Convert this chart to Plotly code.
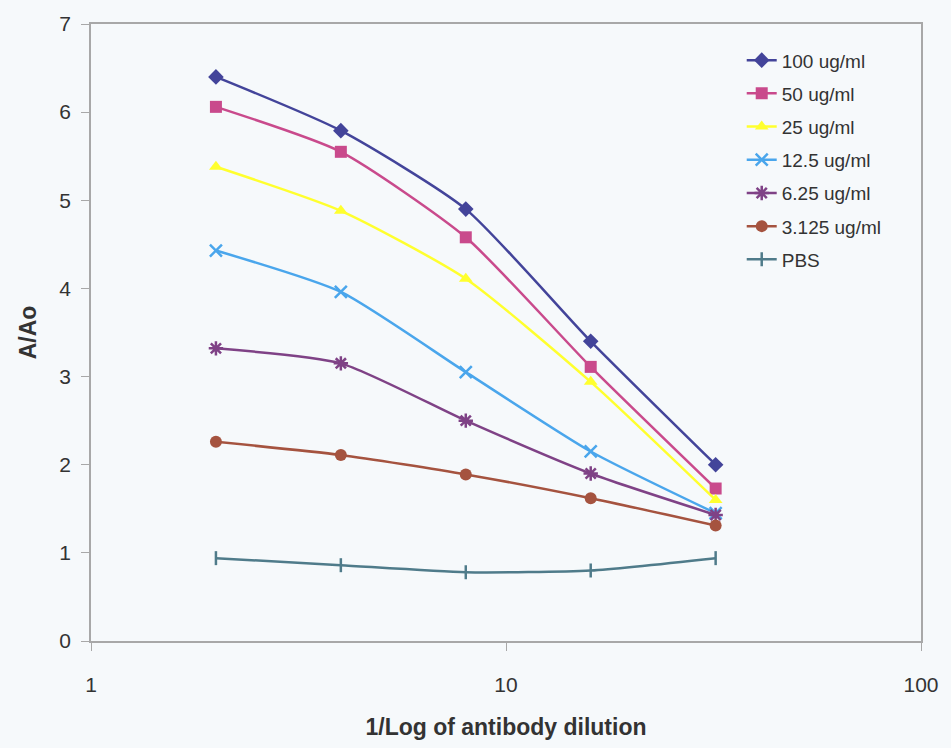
import plotly.graph_objects as go

x_vals = [2, 4, 8, 16, 32]

series_names = ["100 ug/ml", "50 ug/ml", "25 ug/ml", "12.5 ug/ml", "6.25 ug/ml", "3.125 ug/ml", "PBS"]
s100 = [6.40, 5.79, 4.90, 3.40, 2.00]
s50 = [6.06, 5.55, 4.58, 3.11, 1.73]
s25 = [5.38, 4.88, 4.11, 2.94, 1.60]
s12_5 = [4.43, 3.96, 3.05, 2.15, 1.45]
s6_25 = [3.32, 3.15, 2.50, 1.90, 1.43]
s3_125 = [2.26, 2.11, 1.89, 1.62, 1.31]
pbs = [0.94, 0.86, 0.78, 0.80, 0.94]
series_values = [s100, s50, s25, s12_5, s6_25, s3_125, pbs]

colors = ["#43449a", "#c94a8c", "#ffff2e", "#4aa6ec", "#7f4286", "#a5533f", "#4f7b8a"]
symbols = ["diamond", "square", "triangle-up", "x-thin", "asterisk", "circle", "line-ns"]
sizes = [12, 12, 12, 12, 12, 12, 10]

fig = go.Figure()
for i, (name, vals, c, sym, sz) in enumerate(zip(series_names, series_values, colors, symbols, sizes)):
    fig.add_trace(go.Scatter(
        x=x_vals, y=vals, name=name, mode="lines+markers", legendgroup=f"g{i}",
        line=dict(color=c, width=2.5, shape="spline", smoothing=0.6),
        marker=dict(symbol=sym, size=sz, color=c,
                    line=dict(color=c, width=2.5 if sym in ("x-thin", "asterisk", "line-ns") else 0)),
    ))

bg = "#f6f9fb"
fig.update_layout(
    width=951, height=748,
    paper_bgcolor=bg, plot_bgcolor=bg,
    margin=dict(l=91, r=29, t=24, b=105),
    font=dict(family="Liberation Sans, Arial, sans-serif", color="#333333"),
    showlegend=True,
    legend=dict(x=0.784, y=0.972, xanchor="left", yanchor="top",
                bgcolor="rgba(0,0,0,0)", font=dict(size=19, color="#333333"),
                tracegroupgap=5.5, itemwidth=30),
)
fig.update_xaxes(
    type="log", range=[0, 2], tickvals=[1, 10, 100], ticktext=["1", "10", "100"],
    showgrid=False, zeroline=False, showline=True, linecolor="#a8a8a8", linewidth=1.5,
    mirror=True, ticks="outside", ticklen=8, tickcolor="#a8a8a8",
    ticklabelstandoff=16,
    tickfont=dict(size=21, color="#333333"),
    title=dict(text="<b>1/Log of antibody dilution</b>", font=dict(size=23, color="#333333"), standoff=24),
)
fig.update_yaxes(
    range=[0, 7], tickvals=[0, 1, 2, 3, 4, 5, 6, 7],
    showgrid=False, zeroline=False, showline=True, linecolor="#a8a8a8", linewidth=1.5,
    mirror=True, ticks="outside", ticklen=8, tickcolor="#a8a8a8",
    ticklabelstandoff=6,
    tickfont=dict(size=21, color="#333333"),
    title=dict(text="<b>A/Ao</b>", font=dict(size=23, color="#333333"), standoff=16),
)

fig.write_html("out.html", config={"displayModeBar": False},
               post_script="document.body.style.margin='0';document.body.style.background='#f6f9fb';")
